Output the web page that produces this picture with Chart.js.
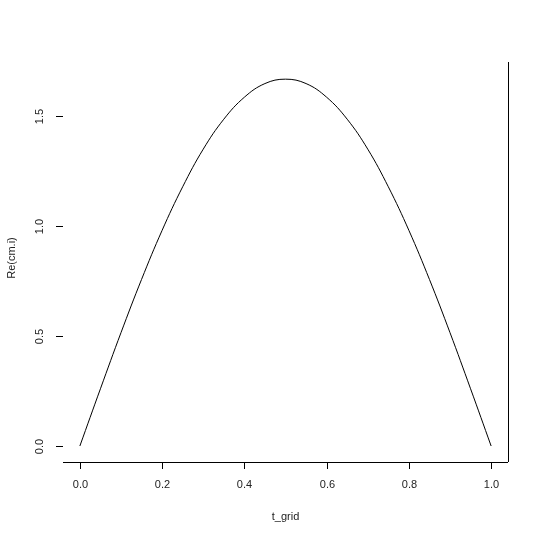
<!DOCTYPE html><html><head><script src="https://cdn.jsdelivr.net/npm/chart.js@4"></script>
<style>body{margin:0;background:#fff}</style></head><body>
<canvas id="c" width="540" height="540" style="width:540px;height:540px"></canvas>
<script>
const tGrid=[0,0.05,0.1,0.15,0.2,0.25,0.3,0.35,0.4,0.45,0.5,0.55,0.6,0.65,0.7,0.75,0.8,0.85,0.9,0.95,1];
const reVals=[0,0.26,0.515,0.757,0.98,1.178,1.349,1.485,1.585,1.647,1.667,1.647,1.585,1.485,1.349,1.178,0.98,0.757,0.515,0.26,0];
const xTicks=[0,0.2,0.4,0.6,0.8,1.0];
const yTicks=[0,0.5,1.0,1.5];
const axes={id:'ax',afterDraw(ch){const c=ch.ctx,x=ch.scales.x,y=ch.scales.y,a=ch.chartArea;
c.save();c.strokeStyle='#000';c.lineWidth=1;c.fillStyle='#222';c.font='11px Arial';
c.beginPath();c.moveTo(a.left,a.bottom+0.5);c.lineTo(a.right,a.bottom+0.5);c.moveTo(a.right+0.5,a.top);c.lineTo(a.right+0.5,a.bottom);c.stroke();
c.textAlign='center';c.textBaseline='middle';
xTicks.forEach(v=>{const p=Math.round(x.getPixelForValue(v))+0.5;c.beginPath();c.moveTo(p,a.bottom);c.lineTo(p,a.bottom+7);c.stroke();c.fillText(v.toFixed(1),p,485);});
yTicks.forEach(v=>{const p=Math.round(y.getPixelForValue(v))+0.5;c.beginPath();c.moveTo(a.left-7,p);c.lineTo(a.left,p);c.stroke();c.save();c.translate(40,p);c.rotate(-Math.PI/2);c.fillText(v.toFixed(1),0,0);c.restore();});
c.fillText('t_grid',(a.left+a.right)/2,517);
c.save();c.translate(12,258);c.rotate(-Math.PI/2);c.fillText('Re(cm.i)',0,0);c.restore();
c.restore();}};
new Chart(document.getElementById('c'),{type:'line',data:{datasets:[{data:tGrid.map((t,i)=>({x:t,y:reVals[i]})),borderColor:'#000',borderWidth:1,pointRadius:0,tension:0.4,fill:false}]},
options:{responsive:false,animation:false,layout:{padding:{left:63,right:32,top:62,bottom:78}},
plugins:{legend:{display:false},tooltip:{enabled:false}},
scales:{x:{type:'linear',min:-0.041,max:1.041,display:false},y:{min:-0.0727,max:1.745,display:false}}},plugins:[axes]});
</script></body></html>
